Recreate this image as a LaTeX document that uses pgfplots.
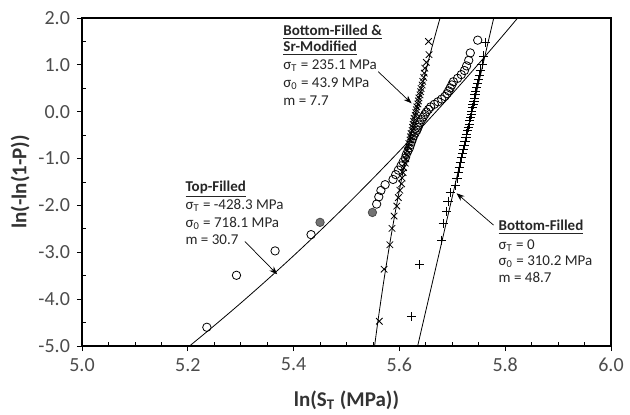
\documentclass[border=0pt]{standalone}
\usepackage{fontspec}
\setmainfont{Carlito}
\usepackage{pgfplots}
\pgfplotsset{compat=1.18}
\usetikzlibrary{arrows.meta}
\begin{document}
\begin{tikzpicture}
\useasboundingbox (-41pt,-34pt) rectangle (274pt,173pt);
\begin{axis}[
  scale only axis, width=264.5pt, height=164pt,
  xmin=5, xmax=6, ymin=-5, ymax=2,
  xtick={5,5.2,5.4,5.6,5.8,6},
  ytick={-5,-4,-3,-2,-1,0,1,2},
  minor x tick num=3, minor y tick num=1,
  tick align=outside, xtick pos=left, ytick pos=left,
  major tick length=2.5pt, minor tick length=2pt,
  minor x tick style={yshift=2pt}, minor y tick style={xshift=2pt},
  axis line style={line width=0.6pt},
  tick style={black, line width=0.4pt},
  ticklabel style={font=\fontsize{10}{12}\selectfont, text=black!70},
  /pgf/number format/assume math mode=true,
  xticklabel style={/pgf/number format/.cd,fixed,fixed zerofill,precision=1},
  yticklabel style={/pgf/number format/.cd,fixed,fixed zerofill,precision=1},
  xlabel={\textbf{ln(S\textsubscript{T} (MPa))}},
  ylabel={\textbf{ln(-ln(1-P))}},
  label style={font=\fontsize{10.5}{12}\selectfont, text=black!80},
  xlabel style={at={(axis description cs:0.5,-0.165)}, anchor=center},
  ylabel style={at={(axis description cs:-0.117,0.5)}, anchor=center},
]
% fitted curves
\addplot[black, line width=0.4pt, smooth] coordinates {
(5.2033,-5) (5.25,-4.565) (5.3,-4.085) (5.35,-3.587) (5.4,-3.073) (5.45,-2.541)
(5.5,-1.992) (5.55,-1.424) (5.6,-0.839) (5.65,-0.236) (5.7,0.385) (5.75,1.025)
(5.8,1.684) (5.8235,2.0)};
\addplot[black, line width=0.4pt, smooth] coordinates {
(5.5531,-5) (5.56,-4.422) (5.57,-3.649) (5.58,-2.939) (5.59,-2.282) (5.60,-1.672)
(5.61,-1.103) (5.62,-0.566) (5.63,-0.060) (5.64,0.420) (5.65,0.876) (5.66,1.311)
(5.67,1.726) (5.6769,2.0)};
\addplot[black, line width=0.4pt] coordinates {(5.6345,-5) (5.7783,2)};
% Top-Filled (open circles)
\addplot[only marks, mark=o, mark size=2.1pt, mark options={black, line width=0.4pt}] coordinates {
(5.236,-4.600) (5.292,-3.491) (5.365,-2.970) (5.433,-2.623)
(5.557,-1.971) (5.561,-1.817) (5.565,-1.680) (5.573,-1.557)
(5.588,-1.445) (5.593,-1.342) (5.598,-1.246) (5.603,-1.156) (5.607,-1.071)
(5.611,-0.991) (5.613,-0.915) (5.616,-0.842) (5.619,-0.772) (5.621,-0.705)
(5.623,-0.639) (5.625,-0.576) (5.627,-0.514) (5.630,-0.454) (5.633,-0.396)
(5.635,-0.338) (5.637,-0.281) (5.639,-0.225) (5.642,-0.170) (5.645,-0.115)
(5.648,-0.060) (5.651,-0.006) (5.655,0.049) (5.659,0.103) (5.666,0.158)
(5.673,0.213) (5.680,0.270) (5.686,0.327) (5.690,0.385) (5.693,0.445)
(5.696,0.507) (5.699,0.572) (5.702,0.640) (5.710,0.713) (5.717,0.792)
(5.723,0.879) (5.727,0.978) (5.731,1.097) (5.734,1.255) (5.748,1.527)};
\addplot[only marks, mark=*, mark size=2.1pt, mark options={draw=black!70, fill=black!55, line width=0.4pt}] coordinates {
(5.450,-2.361) (5.549,-2.150)};
% Bottom-Filled & Sr-Modified (x marks)
\addplot[only marks, mark=x, mark size=2.3pt, mark options={black, line width=0.4pt}] coordinates {
(5.562,-4.4715) (5.571,-3.3615) (5.582,-2.8388) (5.586,-2.4903) (5.590,-2.2266)
(5.595,-2.0134) (5.598,-1.8327) (5.601,-1.6763) (5.604,-1.5387) (5.605,-1.4139)
(5.607,-1.2996) (5.608,-1.1942) (5.611,-1.0960) (5.612,-1.0038) (5.614,-0.9168)
(5.615,-0.8340) (5.617,-0.7550) (5.618,-0.6791) (5.620,-0.6060) (5.621,-0.5352)
(5.622,-0.4665) (5.624,-0.3994) (5.625,-0.3338) (5.626,-0.2695) (5.627,-0.2061)
(5.628,-0.1434) (5.630,-0.0812) (5.631,-0.0193) (5.632,0.0425) (5.633,0.1044)
(5.635,0.1668) (5.636,0.2299) (5.637,0.2940) (5.639,0.3596) (5.640,0.4271)
(5.641,0.4971) (5.643,0.5705) (5.644,0.6483) (5.646,0.7321) (5.647,0.8242)
(5.648,0.9287) (5.651,1.0536) (5.656,1.2175) (5.655,1.4990)};
% Bottom-Filled (plus marks)
\addplot[only marks, mark=+, mark size=2.3pt, mark options={black, line width=0.4pt}] coordinates {
(5.623,-4.3757) (5.638,-3.2644) (5.680,-2.7405) (5.683,-2.3906) (5.689,-2.1257)
(5.692,-1.9110) (5.696,-1.7297) (5.706,-1.5719) (5.709,-1.4317) (5.712,-1.3051)
(5.713,-1.1892) (5.715,-1.0818) (5.717,-0.9817) (5.719,-0.8874) (5.721,-0.7981)
(5.722,-0.7130) (5.724,-0.6314) (5.726,-0.5528) (5.727,-0.4767) (5.729,-0.4028)
(5.730,-0.3307) (5.732,-0.2600) (5.733,-0.1903) (5.735,-0.1216) (5.736,-0.0534)
(5.737,0.0146) (5.738,0.0827) (5.739,0.1511) (5.741,0.2204) (5.742,0.2908)
(5.743,0.3630) (5.744,0.4375) (5.746,0.5152) (5.747,0.5972) (5.749,0.6851)
(5.751,0.7815) (5.753,0.8904) (5.756,1.0198) (5.759,1.1888) (5.762,1.4775)};
% annotations
\draw[black, line width=0.35pt, -{Stealth[length=4pt,width=3pt]}] (axis cs:5.560,0.854) -- (axis cs:5.623,0.180);
\draw[black, line width=0.35pt, -{Stealth[length=4pt,width=3pt]}] (axis cs:5.308,-2.77) -- (axis cs:5.369,-3.47);
\draw[black, line width=0.35pt, -{Stealth[length=4pt,width=3pt]}] (axis cs:5.778,-2.42) -- (axis cs:5.708,-1.74);
\begin{scope}[every node/.style={anchor=base west, inner sep=0pt, font=\fontsize{7.5}{9}\selectfont, text=black!85}]
\node at (axis cs:5.380,1.627) {\textbf{\underline{Bottom-Filled \&}}};
\node at (axis cs:5.380,1.285) {\textbf{\underline{Sr-Modified}}};
\node at (axis cs:5.380,0.901) {σ\textsubscript{T} = 235.1 MPa};
\node at (axis cs:5.380,0.517) {σ\textsubscript{0} = 43.9 MPa};
\node at (axis cs:5.380,0.133) {m = 7.7};
\node at (axis cs:5.195,-1.692) {\textbf{\underline{Top-Filled}}};
\node at (axis cs:5.195,-2.087) {σ\textsubscript{T} = -428.3 MPa};
\node at (axis cs:5.195,-2.477) {σ\textsubscript{0} = 718.1 MPa};
\node at (axis cs:5.195,-2.834) {m = 30.7};
\node at (axis cs:5.787,-2.545) {\textbf{\underline{Bottom-Filled}}};
\node at (axis cs:5.787,-2.930) {σ\textsubscript{T} = 0};
\node at (axis cs:5.787,-3.282) {σ\textsubscript{0} = 310.2 MPa};
\node at (axis cs:5.787,-3.655) {m = 48.7};
\end{scope}
\end{axis}
\end{tikzpicture}
\end{document}
